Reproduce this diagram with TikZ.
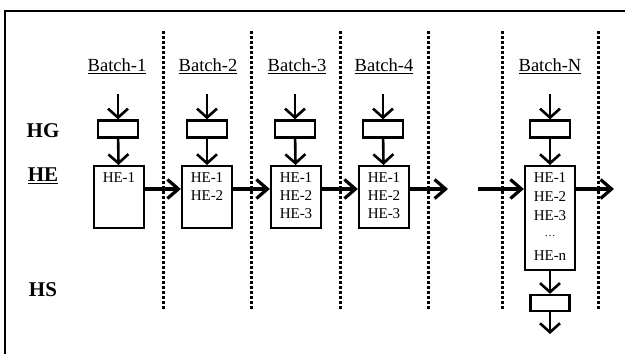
\documentclass[tikz,border=0pt]{standalone}
\usepackage{fontspec}
\setmainfont{Liberation Serif}
\usetikzlibrary{arrows.meta}
\begin{document}
\begin{tikzpicture}[x=1pt,y=-1pt,
  frameline/.style={line width=2.2pt},
  sepline/.style={line width=3pt,dash pattern=on 2.6pt off 2.4pt},
  rowlabel/.style={font=\fontsize{21}{24}\selectfont\bfseries},
  batchlabel/.style={font=\fontsize{18.5}{22}\selectfont},
  hgbox/.style={draw,line width=2.3pt,minimum width=40pt,minimum height=17pt,inner sep=0pt},
  hebox/.style={draw,line width=2.3pt,minimum width=50pt,inner sep=0pt,anchor=north},
  hetext/.style={font=\fontsize{15}{18}\selectfont,inner sep=0pt},
  vflow/.style={line width=2.6pt,-{Straight Barb[length=9pt,width=20pt,line width=2.6pt]}},
  hflow/.style={line width=3.2pt,-{Straight Barb[length=11pt,width=19pt,line width=3.2pt]}}
]
\useasboundingbox (0,0) rectangle (625,354);

% outer frame (left and top edges)
\draw[frameline] (5,354) -- (5,11) -- (625,11);

% batch separators
\foreach \sx in {163,251,340,428,502,598}
  \draw[sepline] (\sx,31) -- (\sx,310);

% row labels
\node[rowlabel] (lblHG) at (43,131) {HG};
\node[rowlabel] (lblHE) at (43,176) {\underline{HE}};
\node[rowlabel] (lblHS) at (43,290) {HS};

% batch titles
\node[batchlabel] (t1) at (117,66) {\underline{Batch-1}};
\node[batchlabel] (t2) at (208,66) {\underline{Batch-2}};
\node[batchlabel] (t3) at (297,66) {\underline{Batch-3}};
\node[batchlabel] (t4) at (384,66) {\underline{Batch-4}};
\node[batchlabel] (tN) at (550,66) {\underline{Batch-N}};

% HG boxes
\node[hgbox] (g1) at (118,129) {};
\node[hgbox] (g2) at (207,129) {};
\node[hgbox] (g3) at (295,129) {};
\node[hgbox] (g4) at (383,129) {};
\node[hgbox] (gN) at (550,129) {};

% HE boxes
\node[hebox,minimum height=62pt] (e1) at (119,165) {};
\node[hebox,minimum height=62pt] (e2) at (207,165) {};
\node[hebox,minimum height=62pt] (e3) at (296,165) {};
\node[hebox,minimum height=62pt] (e4) at (384,165) {};
\node[hebox,minimum height=104pt] (eN) at (550,165) {};

% HE contents
\node[hetext] (e1a) at (119,178) {HE-1};
\node[hetext] (e2a) at (207,178) {HE-1};
\node[hetext] (e2b) at (207,196) {HE-2};
\node[hetext] (e3a) at (296,178) {HE-1};
\node[hetext] (e3b) at (296,196) {HE-2};
\node[hetext] (e3c) at (296,214) {HE-3};
\node[hetext] (e4a) at (384,178) {HE-1};
\node[hetext] (e4b) at (384,196) {HE-2};
\node[hetext] (e4c) at (384,214) {HE-3};
\node[hetext] (eNa) at (550,178) {HE-1};
\node[hetext] (eNb) at (550,197) {HE-2};
\node[hetext] (eNc) at (550,216) {HE-3};
\node[hetext] (eNd) at (550,236) {\fontsize{11}{12}\selectfont\dots};
\node[hetext] (eNe) at (550,256) {HE-n};

% HS box
\node[hgbox,minimum width=39pt,minimum height=16pt] (sN) at (550,303) {};

% incoming gas arrows
\foreach \n/\cx in {g1/118,g2/207,g3/295,g4/383,gN/550}{
  \coordinate (in-\n) at (\cx,94);
  \draw[vflow] (in-\n) -- (\n.north);
}
\draw[vflow] (g1) -- (e1);
\draw[vflow] (g2) -- (e2);
\draw[vflow] (g3) -- (e3);
\draw[vflow] (g4) -- (e4);
\draw[vflow] (gN) -- (eN);
\draw[vflow] (eN) -- (sN);
\coordinate (outS) at (550,334);
\draw[vflow] (sN) -- (outS);

% transfers between batches
\draw[hflow] ([yshift=-24pt]e1.north east) -- ([yshift=-24pt]e2.north west);
\draw[hflow] ([yshift=-24pt]e2.north east) -- ([yshift=-24pt]e3.north west);
\draw[hflow] ([yshift=-24pt]e3.north east) -- ([yshift=-24pt]e4.north west);
\coordinate (out4) at (448,189);
\draw[hflow] ([yshift=-24pt]e4.north east) -- (out4);
\coordinate (inN) at (478,189);
\draw[hflow] (inN) -- ([yshift=-24pt]eN.north west);
\coordinate (outN) at (614,189);
\draw[hflow] ([yshift=-24pt]eN.north east) -- (outN);
\end{tikzpicture}
\end{document}
